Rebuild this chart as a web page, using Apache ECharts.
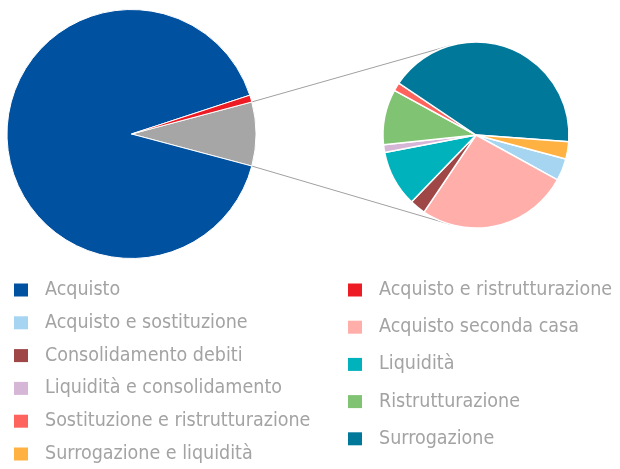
<!DOCTYPE html>
<html>
<head>
<meta charset="utf-8">
<script src="https://cdn.jsdelivr.net/npm/echarts@6/dist/echarts.min.js"></script>
<style>
    html, body { margin: 0; padding: 0; background: #fff; }
    #chart { width: 620px; height: 469px; }
</style>
</head>
<body>
<div id="chart"></div>
<script>
// main pie (percent of total)
var mainNames = ['Acquisto', 'Acquisto e ristrutturazione'];
var mainValues = [90.8, 0.9];

// detail pie: breakdown of the grey slice
var detailNames = ['Acquisto e sostituzione', 'Acquisto seconda casa', 'Consolidamento debiti', 'Liquidità',
    'Liquidità e consolidamento', 'Ristrutturazione', 'Sostituzione e ristrutturazione', 'Surrogazione',
    'Surrogazione e liquidità'];
var detailValues = [0.32, 2.19, 0.23, 0.81, 0.11, 0.80, 0.12, 3.46, 0.25];

var colors = {
    'Acquisto': '#0151a1',
    'Acquisto e ristrutturazione': '#ed1c24',
    'Acquisto e sostituzione': '#a5d5f1',
    'Acquisto seconda casa': '#ffaeaa',
    'Consolidamento debiti': '#9f4647',
    'Liquidità': '#00b2bb',
    'Liquidità e consolidamento': '#d6b6d7',
    'Ristrutturazione': '#80c372',
    'Sostituzione e ristrutturazione': '#ff635e',
    'Surrogazione': '#007899',
    'Surrogazione e liquidità': '#ffb142',
    'other': '#a6a6a6'
};

document.addEventListener("DOMContentLoaded", function () {
    var chartDom = document.getElementById('chart');
    var myChart = echarts.init(chartDom);

    var otherValue = detailValues.reduce(function (a, b) { return a + b; }, 0);
    var total = otherValue + mainValues.reduce(function (a, b) { return a + b; }, 0);

    var mainData = [{ name: 'Altro', value: otherValue, itemStyle: { color: colors.other } }];
    mainNames.forEach(function (n, i) {
        mainData.push({ name: n, value: mainValues[i], itemStyle: { color: colors[n] } });
    });
    var detailData = detailNames.map(function (n, i) {
        return { name: n, value: detailValues[i], itemStyle: { color: colors[n] } };
    });

    // legend: alphabetical, two columns filled row by row
    var allNames = mainNames.concat(detailNames).sort(function (a, b) { return a.localeCompare(b); });
    var leftLegend = allNames.filter(function (n, i) { return i % 2 === 0; });
    var rightLegend = allNames.filter(function (n, i) { return i % 2 === 1; });

    var legendText = {
        fontFamily: '"Liberation Sans Narrow", "DejaVu Sans Condensed", sans-serif',
        fontSize: 19.5,
        lineHeight: 22,
        color: '#a3a3a3',
        padding: [0, 0, 0, 12]
    };

    var option = {
        animation: false,
        legend: [
            {
                data: leftLegend,
                orient: 'vertical',
                left: 14,
                top: 279,
                height: 200,
                padding: 0,
                icon: 'rect',
                itemWidth: 14,
                itemHeight: 13,
                itemGap: 10.8,
                itemStyle: { borderWidth: 0 },
                selectedMode: false,
                textStyle: legendText
            },
            {
                data: rightLegend,
                orient: 'vertical',
                left: 348,
                top: 279,
                height: 200,
                padding: 0,
                icon: 'rect',
                itemWidth: 14,
                itemHeight: 13,
                itemGap: 15.2,
                itemStyle: { borderWidth: 0 },
                selectedMode: false,
                textStyle: legendText
            }
        ],
        series: [
            {
                type: 'pie',
                center: [131.5, 134],
                radius: 124.5,
                startAngle: otherValue / total * 180,
                label: { show: false },
                labelLine: { show: false },
                silent: true,
                itemStyle: { borderColor: '#fff', borderWidth: 1 },
                data: mainData
            },
            {
                type: 'pie',
                center: [476, 135],
                radius: 93,
                startAngle: -15,
                label: { show: false },
                labelLine: { show: false },
                silent: true,
                itemStyle: { borderColor: '#fff', borderWidth: 1.5 },
                data: detailData
            }
        ]
    };

    myChart.setOption(option);

    // connector lines from the grey slice to tangents of the detail pie
    var grey = myChart.getModel().getSeriesByIndex(0).getData().getItemLayout(0);
    var det = myChart.getModel().getSeriesByIndex(1).getData().getItemLayout(0);

    function connector(angle, sign) {
        var px = grey.cx + grey.r * Math.cos(angle);
        var py = grey.cy + grey.r * Math.sin(angle);
        var dx = px - det.cx, dy = py - det.cy;
        var d = Math.sqrt(dx * dx + dy * dy);
        var t = Math.atan2(dy, dx) + sign * Math.acos(det.r / d);
        return {
            type: 'line',
            silent: true,
            z: -1,
            shape: { x1: px, y1: py, x2: det.cx + det.r * Math.cos(t), y2: det.cy + det.r * Math.sin(t) },
            style: { stroke: '#a0a0a0', lineWidth: 1 }
        };
    }

    myChart.setOption({
        graphic: [connector(grey.startAngle, 1), connector(grey.endAngle, -1)]
    });
});
</script>
</body>
</html>
